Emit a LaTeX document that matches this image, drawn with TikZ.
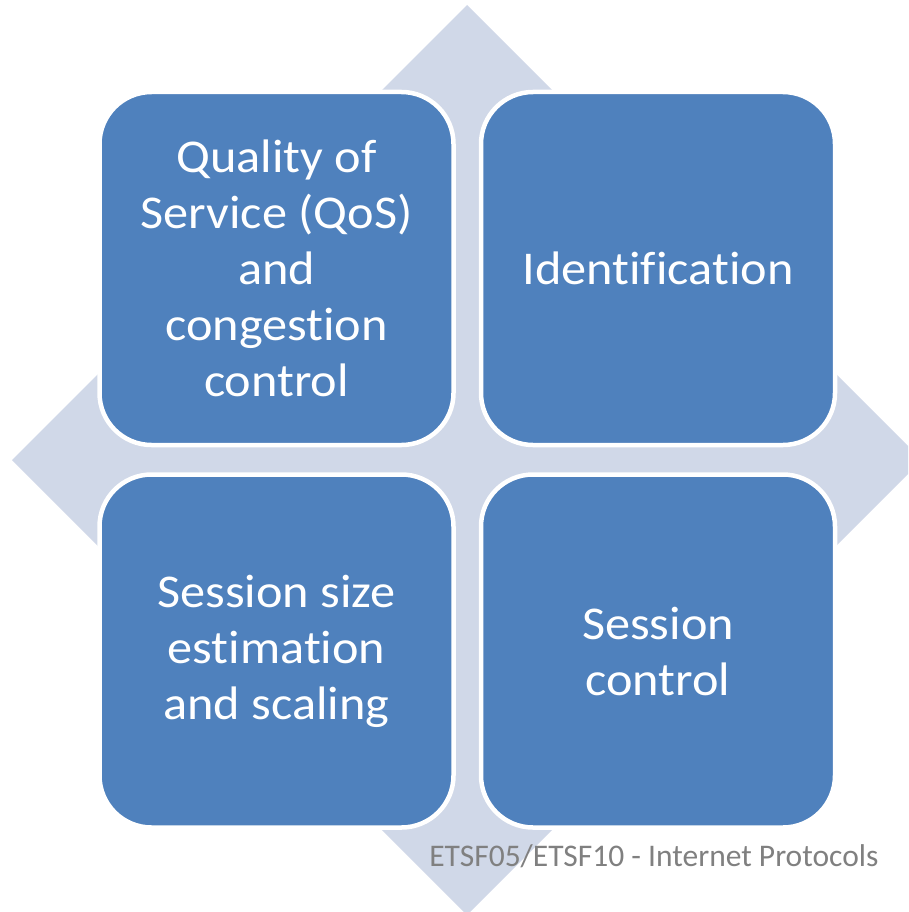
\documentclass[tikz,border=0pt]{standalone}
\usepackage{fontspec}
\setmainfont[Ligatures=NoCommon]{Carlito}
\newfontfamily\boxfont[Ligatures=NoCommon, FakeStretch=1.07]{Carlito}
\begin{document}
\begin{tikzpicture}[x=1pt, y=-1pt]

\definecolor{DiamondFill}{RGB}{208,216,232}
\definecolor{BoxFill}{RGB}{79,129,189}
\definecolor{FooterText}{RGB}{128,128,128}

\tikzset{
    quadbox/.style={
        draw=white, fill=BoxFill,
        rounded corners=52pt, line width=4.5pt,
        minimum width=354pt, minimum height=353pt,
        align=center, text=white,
        font=\boxfont\fontsize{47}{56}\selectfont
    }
}

% ── Moldura da página ───────────────────────────────────────
\useasboundingbox (0,0) rectangle (908,912);
\clip (0,0) rectangle (908,912);

% ── Losango de fundo ────────────────────────────────────────
\fill[DiamondFill] (467,5) -- (922,460) -- (467,915) -- (12,460) -- cycle;

% ── Quatro blocos ───────────────────────────────────────────
\node[quadbox] (qos) at (276.5,268.5) {Quality of\\Service (QoS)\\and\\congestion\\control};
\node[quadbox] (ident) at (658,268.5) {Identification};
\node[quadbox] (size) at (276.5,651) {Session size\\estimation\\and scaling};
\node[quadbox] (sessctl) at (658,651) {Session\\control};

% ── Rodapé ──────────────────────────────────────────────────
\node[FooterText, font=\fontsize{31.5}{37}\selectfont, anchor=base east]
    (footer) at (882,866) {ETSF05/ETSF10 - Internet Protocols};

\end{tikzpicture}
\end{document}
